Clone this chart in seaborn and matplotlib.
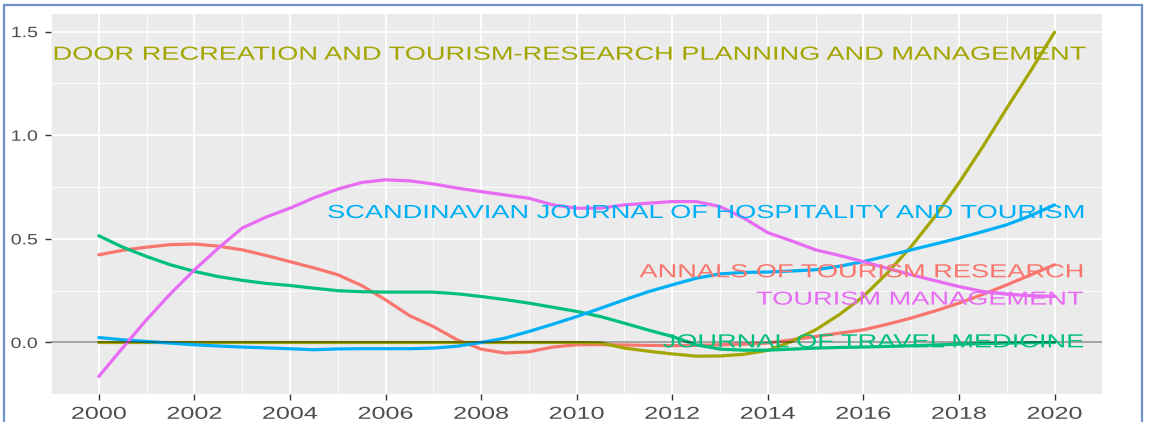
import matplotlib
matplotlib.use("Agg")
import matplotlib.pyplot as plt
from matplotlib.patches import Rectangle
from matplotlib.ticker import MultipleLocator
from matplotlib.transforms import Affine2D
from matplotlib import patheffects
import pandas as pd
import seaborn as sns

years = [2000 + 0.5 * i for i in range(41)]

annals = [0.423, 0.445, 0.46, 0.472, 0.475, 0.465, 0.447, 0.42, 0.39, 0.36,
          0.327, 0.275, 0.206, 0.13, 0.077, 0.013, -0.032, -0.051, -0.045, -0.022,
          -0.011, -0.01, -0.012, -0.014, -0.015, -0.014, -0.011, -0.008, -0.003, 0.013,
          0.029, 0.045, 0.061, 0.088, 0.118, 0.152, 0.19, 0.232, 0.278, 0.326, 0.375]
outdoor = [0, 0, 0, 0, 0, 0, 0, 0, 0, 0,
           0, 0, 0, 0, 0, 0, 0, 0, 0, 0,
           0, -0.002, -0.027, -0.042, -0.055, -0.066, -0.065, -0.057, -0.038, 0.005,
           0.061, 0.135, 0.222, 0.335, 0.463, 0.608, 0.77, 0.945, 1.13, 1.31, 1.497]
travel_med = [0.515, 0.46, 0.415, 0.375, 0.343, 0.318, 0.30, 0.285, 0.275, 0.262,
              0.25, 0.245, 0.243, 0.243, 0.243, 0.235, 0.222, 0.207, 0.19, 0.17,
              0.15, 0.125, 0.093, 0.06, 0.029, -0.011, -0.032, -0.037, -0.037, -0.032,
              -0.027, -0.024, -0.022, -0.019, -0.016, -0.012, -0.008, -0.005, -0.003, -0.001, 0.0]
scandinavian = [0.024, 0.013, 0.005, -0.003, -0.011, -0.017, -0.022, -0.026, -0.03, -0.035,
                -0.031, -0.03, -0.03, -0.03, -0.027, -0.018, 0.0, 0.021, 0.053, 0.088,
                0.125, 0.165, 0.206, 0.245, 0.278, 0.31, 0.331, 0.338, 0.34, 0.345,
                0.351, 0.368, 0.39, 0.418, 0.447, 0.475, 0.504, 0.535, 0.568, 0.612, 0.664]
tourism_mgmt = [-0.164, -0.026, 0.11, 0.235, 0.35, 0.455, 0.552, 0.605, 0.648, 0.698,
                0.74, 0.772, 0.785, 0.78, 0.765, 0.745, 0.728, 0.712, 0.696, 0.664,
                0.648, 0.648, 0.664, 0.672, 0.68, 0.68, 0.656, 0.60, 0.53, 0.49,
                0.447, 0.42, 0.39, 0.358, 0.327, 0.298, 0.27, 0.246, 0.233, 0.226, 0.222]

journals = ["ANNALS OF TOURISM RESEARCH",
            "JOURNAL OF OUTDOOR RECREATION AND TOURISM-RESEARCH PLANNING AND MANAGEMENT",
            "JOURNAL OF TRAVEL MEDICINE",
            "SCANDINAVIAN JOURNAL OF HOSPITALITY AND TOURISM",
            "TOURISM MANAGEMENT"]
series = [annals, outdoor, travel_med, scandinavian, tourism_mgmt]
colors = ["#F8766D", "#A3A500", "#00BF7D", "#00B0F6", "#E76BF3"]

# label text as shown (outdoor label is cut off at the panel edge)
label_texts = ["ANNALS OF TOURISM RESEARCH",
               "DOOR RECREATION AND TOURISM-RESEARCH PLANNING AND MANAGEMENT",
               "JOURNAL OF TRAVEL MEDICINE",
               "SCANDINAVIAN JOURNAL OF HOSPITALITY AND TOURISM",
               "TOURISM MANAGEMENT"]
label_y = [0.346, 1.396, 0.008, 0.632, 0.214]
label_x = 2020.58


class HStretch(patheffects.AbstractPathEffect):
    """Widen text horizontally (the source image was stretched sideways)."""

    def __init__(self, sx, anchor="right"):
        super().__init__()
        self.sx = sx
        self.anchor = anchor

    def draw_path(self, renderer, gc, tpath, affine, rgbFace=None):
        ext = tpath.get_extents(affine)
        x0 = {"left": ext.x0, "center": 0.5 * (ext.x0 + ext.x1), "right": ext.x1}[self.anchor]
        t = affine + Affine2D().translate(-x0, 0).scale(self.sx, 1).translate(x0, 0)
        renderer.draw_path(gc, tpath, t, rgbFace)


df = pd.concat([pd.DataFrame({"year": years, "value": vals, "journal": name})
                for name, vals in zip(journals, series)], ignore_index=True)

sns.set_theme(style="darkgrid", rc={"axes.facecolor": "#EBEBEB"})
plt.rcParams["font.family"] = ["Liberation Sans", "DejaVu Sans"]

fig = plt.figure(figsize=(11.52, 4.22), dpi=100)
ax = fig.add_axes([51 / 1152, 1 - 394.3 / 422, (1102.3 - 51) / 1152, (394.3 - 14) / 422])

sns.lineplot(data=df, x="year", y="value", hue="journal", hue_order=journals,
             palette=dict(zip(journals, colors)), legend=False, linewidth=2.3, ax=ax)
# zero line: semi-transparent black, reads as grey on the panel and darkens the flat olive part
ax.axhline(0, color="black", alpha=0.45, linewidth=1.1)

for txt, y, c in zip(label_texts, label_y, colors):
    ax.text(label_x, y, txt, color=c, fontsize=13.6, ha="right", va="center_baseline",
            clip_on=True, path_effects=[HStretch(1.44, "right")])

ax.set_xlim(1999, 2021)
ax.set_ylim(-0.25, 1.585)
ax.xaxis.set_major_locator(MultipleLocator(2))
ax.xaxis.set_minor_locator(MultipleLocator(1))
ax.yaxis.set_major_locator(MultipleLocator(0.5))
ax.yaxis.set_minor_locator(MultipleLocator(0.25))
ax.grid(which="major", color="white", linewidth=1.3)
ax.grid(which="minor", color="white", linewidth=0.6)
ax.set_xlabel("")
ax.set_ylabel("")
for s in ax.spines.values():
    s.set_visible(False)
ax.tick_params(which="major", length=4, width=1, color="#333333", labelcolor="#4D4D4D",
               bottom=True, left=True)
ax.tick_params(axis="x", labelsize=12.4, pad=5)
ax.tick_params(axis="y", labelsize=10.8, pad=5.5)
ax.tick_params(which="minor", length=0)
fig.canvas.draw()
for lab in ax.get_xticklabels():
    lab.set_path_effects([HStretch(1.46, "center")])
for lab in ax.get_yticklabels():
    lab.set_path_effects([HStretch(1.3, "right")])

fig.patches.append(Rectangle((4 / 1152, -0.1), (1142 - 4) / 1152, 1.1 - 5 / 422,
                             transform=fig.transFigure, fill=False,
                             edgecolor="#6F93C9", linewidth=1.6))

fig.savefig("out.png", dpi=100)
